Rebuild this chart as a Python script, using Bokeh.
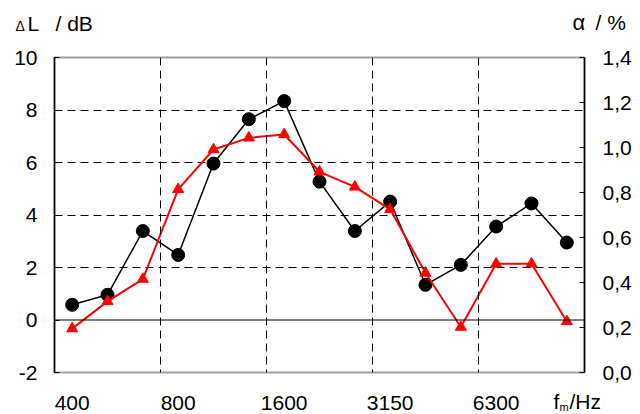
from bokeh.plotting import figure
from bokeh.models import (Range1d, LinearAxis, FixedTicker, Span,
                          CustomJSTickFormatter, FactorRange)
from bokeh.core.properties import value
from bokeh.embed import file_html
from bokeh.resources import INLINE

# --- data ---------------------------------------------------------------
freqs = ["400", "500", "630", "800", "1000", "1250", "1600", "2000",
         "2500", "3150", "4000", "5000", "6300", "8000", "10000"]
delta_L = [0.58, 0.96, 3.39, 2.48, 5.96, 7.65, 8.34, 5.27,
           3.39, 4.51, 1.34, 2.10, 3.56, 4.44, 2.95]
alpha = [0.195, 0.316, 0.415, 0.814, 0.991, 1.043, 1.058, 0.892,
         0.825, 0.725, 0.442, 0.202, 0.483, 0.483, 0.227]
shown_freqs = ["400", "800", "1600", "3150", "6300"]
left_ticks = [-2, 0, 2, 4, 6, 8, 10]
right_ticks = [0.0, 0.2, 0.4, 0.6, 0.8, 1.0, 1.2, 1.4]
grid_levels = [2, 4, 6, 8]
band_edges = [3, 6, 9, 12]

FONT = "Liberation Sans"
TICK_SIZE = "21px"
W, H = 640, 414
FL, FR, FT, FB = 54, 584, 57, 372   # frame edges in page pixels

p = figure(width=W, height=H, output_backend="svg", toolbar_location=None,
           x_range=FactorRange(*freqs), y_range=Range1d(-2, 10),
           min_border_left=FL, min_border_right=W - FR, min_border_top=FT,
           min_border_bottom=H - FB)
p.extra_y_ranges = {"alpha": Range1d(0, 1.4), "page_y": Range1d(FB, FT)}
p.background_fill_color = "white"
p.border_fill_color = "white"
p.outline_line_color = "#a0a0a0"
p.outline_line_width = 2

# grid
p.xgrid.visible = False
p.ygrid.ticker = FixedTicker(ticks=grid_levels)
p.ygrid.grid_line_color = "black"
p.ygrid.grid_line_dash = "8 5"
p.ygrid.grid_line_width = 1
for e in band_edges:
    p.add_layout(Span(location=e, dimension="height", line_color="black",
                      line_dash="8 5", line_width=1))
p.add_layout(Span(location=0, dimension="width", line_color="black", line_width=1))

# x axis
xa = p.xaxis[0]
xa.axis_line_color = None
xa.major_tick_line_color = None
xa.minor_tick_line_color = None
xa.formatter = CustomJSTickFormatter(
    args=dict(shown=shown_freqs),
    code="return shown.includes(tick) ? tick : '';")
xa.major_label_text_font = FONT
xa.major_label_text_font_size = TICK_SIZE
xa.major_label_text_color = "black"
xa.major_label_standoff = 17

# left axis
ya = p.yaxis[0]
ya.ticker = FixedTicker(ticks=left_ticks)
ya.formatter = CustomJSTickFormatter(code="return String(tick);")
ya.axis_line_color = "black"
ya.axis_line_width = 1.5
ya.major_tick_in = 5
ya.major_tick_out = 0
ya.major_tick_line_color = "black"
ya.minor_tick_line_color = None
ya.major_label_text_font = FONT
ya.major_label_text_font_size = TICK_SIZE
ya.major_label_text_color = "black"
ya.major_label_standoff = 17

# right axis
ra = LinearAxis(y_range_name="alpha",
                ticker=FixedTicker(ticks=right_ticks),
                formatter=CustomJSTickFormatter(code="return tick.toFixed(1).replace('.', ',');"))
ra.axis_line_color = "black"
ra.axis_line_width = 1.5
ra.major_tick_in = 5
ra.major_tick_out = 0
ra.major_tick_line_color = "black"
ra.minor_tick_line_color = None
ra.major_label_text_font = FONT
ra.major_label_text_font_size = TICK_SIZE
ra.major_label_text_color = "black"
ra.major_label_standoff = 18
p.add_layout(ra, "right")

# series
p.line(freqs, delta_L, line_color="black", line_width=1.5)
p.scatter(freqs, delta_L, marker="circle", size=13, fill_color="black",
          line_color="black")
p.line(freqs, alpha, line_color="#ff0000", line_width=2, y_range_name="alpha")
p.scatter(freqs, alpha, marker="triangle", size=11, fill_color="#ff0000",
          line_color="#ff0000", y_range_name="alpha")

# axis titles, outside the frame (overlay level is not clipped to the frame)
def page_text(txt, px, baseline, size_px):
    xs = (px - FL) / (FR - FL) * len(freqs)   # synthetic categorical coordinate
    py = baseline - 0.33 * size_px            # compensate rendered baseline offset
    p.text(x=[xs], y=[py], text=[txt], text_font=value(FONT),
           text_font_size=value(f"{size_px}px"), text_color="black",
           text_align="left", text_baseline="alphabetic",
           y_range_name="page_y", level="overlay")

page_text("\u0394", 15, 30, 14)
page_text("L", 27, 30, 21)
page_text("/ dB", 55, 30, 21)
page_text("\u03b1", 572, 29, 22)
page_text("/ %", 595, 29, 21)
page_text("f", 553, 408, 21)
page_text("m", 559, 410, 11)
page_text("/Hz", 569, 408, 21)

open("out.html", "w").write(file_html(p, INLINE))
